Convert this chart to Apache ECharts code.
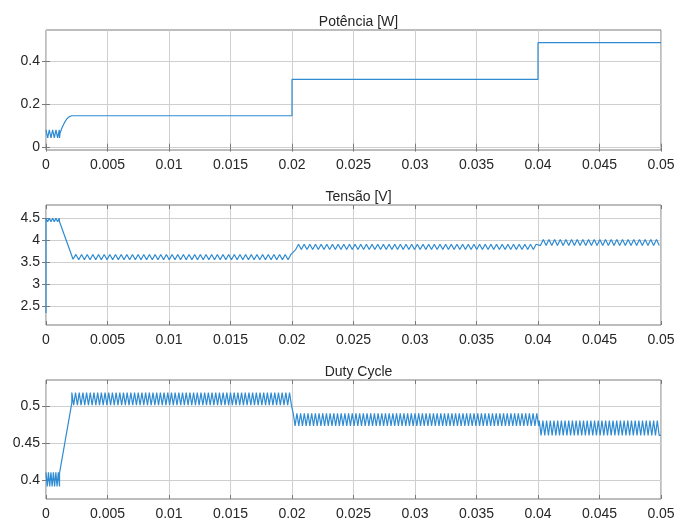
<!DOCTYPE html>
<html>
<head>
<meta charset="utf-8">
<script src="https://cdn.jsdelivr.net/npm/echarts@6/dist/echarts.min.js"></script>
<style>
  html, body { margin: 0; padding: 0; background: #fff; }
  #chart { width: 681px; height: 523px; }
</style>
</head>
<body>
<div id="chart"></div>
<script>
// ---------------- data ----------------
const panelTitles = ['Potência [W]', 'Tensão [V]', 'Duty Cycle'];
const timeTicks = [0, 0.005, 0.01, 0.015, 0.02, 0.025, 0.03, 0.035, 0.04, 0.045, 0.05];
const potenciaTicks = [0, 0.2, 0.4];
const tensaoTicks = [2.5, 3, 3.5, 4, 4.5];
const dutyTicks = [0.4, 0.45, 0.5];
const potenciaRange = [-0.011, 0.546];
const tensaoRange = [2.08, 4.80];
const dutyRange = [0.375, 0.536];

// pieces: ['pt', t, v] single point; ['sq', t0, t1, lo, hi, period] square ripple;
// ['tri', t0, t1, lo, hi, period] triangular ripple
const potenciaPieces = [
  ['sq', 0, 0.0011, 0.045, 0.082, 0.00027],
  ['pt', 0.00114, 0.067],
  ['pt', 0.0013, 0.092],
  ['pt', 0.0015, 0.116],
  ['pt', 0.0017, 0.134],
  ['pt', 0.0019, 0.144],
  ['pt', 0.0021, 0.148],
  ['pt', 0.0200, 0.148],
  ['pt', 0.0200, 0.317],
  ['pt', 0.0400, 0.317],
  ['pt', 0.0400, 0.487],
  ['pt', 0.0500, 0.487]
];
const tensaoPieces = [
  ['pt', 0, 2.35],
  ['sq', 0, 0.0011, 4.42, 4.50, 0.00027],
  ['pt', 0.0012, 4.45],
  ['pt', 0.0022, 3.57],
  ['tri', 0.0022, 0.0200, 3.56, 3.68, 0.00046],
  ['tri', 0.0203, 0.0400, 3.79, 3.91, 0.00046],
  ['tri', 0.0402, 0.0500, 3.88, 4.02, 0.00046]
];
const dutyPieces = [
  ['sq', 0, 0.0011, 0.392, 0.411, 0.0002],
  ['pt', 0.0011, 0.41],
  ['pt', 0.0021, 0.505],
  ['sq', 0.0021, 0.0201, 0.502, 0.519, 0.0003],
  ['sq', 0.0201, 0.0401, 0.474, 0.491, 0.0003],
  ['sq', 0.0401, 0.0500, 0.461, 0.481, 0.0003]
];

// ---------------- build traces ----------------
function buildTrace(pieces) {
  const out = [];
  pieces.forEach(p => {
    if (p[0] === 'pt') { out.push([p[1], p[2]]); return; }
    const [kind, t0, t1, lo, hi, per] = p;
    if (kind === 'sq') {
      for (let t = t0; t < t1 - 1e-9; t += per) {
        const h = Math.min(t + per / 2, t1), e = Math.min(t + per, t1);
        out.push([t, hi], [h, hi], [h, lo], [e, lo]);
      }
    } else {
      let k = 0;
      for (let t = t0; t <= t1 + 1e-9; t += per / 2, k++) {
        out.push([Math.min(t, t1), k % 2 === 0 ? lo : hi]);
      }
    }
  });
  return out;
}
const traces = [buildTrace(potenciaPieces), buildTrace(tensaoPieces), buildTrace(dutyPieces)];
const ranges = [potenciaRange, tensaoRange, dutyRange];
const yTicks = [potenciaTicks, tensaoTicks, dutyTicks];

// ---------------- chart ----------------
const font = '"Liberation Sans", Arial, sans-serif';
const textColor = '#262626';
const gridTops = [30, 205, 380];
const gridHeights = [120, 120, 119];
const plotLeft = 46, plotRight = 20;
const lineColor = '#2f8bd2';
const gridLineColor = '#cfcfcf';
const boxColor = '#7a7a7a';

const grids = [], xAxes = [], yAxes = [], series = [], titles = [];
for (let i = 0; i < 3; i++) {
  grids.push({ left: plotLeft, right: plotRight, top: gridTops[i], height: gridHeights[i],
    show: true, borderColor: boxColor, borderWidth: 1, backgroundColor: '#fff' });
  xAxes.push({
    type: 'value', gridIndex: i, min: 0, max: 0.05, interval: 0.005,
    axisLine: { show: false },
    axisTick: { show: true, inside: true, length: 4, lineStyle: { color: boxColor } },
    axisLabel: { show: true, color: textColor, fontSize: 14, fontFamily: font, margin: 8,
      customValues: timeTicks, formatter: v => String(+v.toFixed(4)) },
    splitLine: { show: true, lineStyle: { color: gridLineColor, width: 1 } }
  });
  xAxes.push({
    type: 'value', gridIndex: i, position: 'top', min: 0, max: 0.05, interval: 0.005,
    axisLine: { show: false },
    axisTick: { show: true, inside: true, length: 4, lineStyle: { color: boxColor } },
    axisLabel: { show: false }, splitLine: { show: false }
  });
  const r = ranges[i];
  yAxes.push({
    type: 'value', gridIndex: i, min: r[0], max: r[1],
    axisLine: { show: false },
    axisTick: { show: true, inside: true, length: 4, customValues: yTicks[i], lineStyle: { color: boxColor } },
    axisLabel: { show: true, color: textColor, fontSize: 14, fontFamily: font, margin: 6,
      customValues: yTicks[i], formatter: v => String(+v.toFixed(3)) },
    splitLine: { show: true, lineStyle: { color: gridLineColor, width: 1 } }
  });
  yAxes.push({
    type: 'value', gridIndex: i, position: 'right', min: r[0], max: r[1],
    axisLine: { show: false },
    axisTick: { show: true, inside: true, length: 4, customValues: yTicks[i], lineStyle: { color: boxColor } },
    axisLabel: { show: false }, splitLine: { show: false }
  });
  series.push({
    type: 'line', xAxisIndex: 2 * i, yAxisIndex: 2 * i, data: traces[i],
    showSymbol: false, symbol: 'none', animation: false, silent: true,
    lineStyle: { color: lineColor, width: 1.2 }, z: 5
  });
  titles.push({
    text: panelTitles[i], left: plotLeft + (681 - plotLeft - plotRight) / 2, top: gridTops[i] - 20,
    textAlign: 'center',
    textStyle: { color: textColor, fontSize: 14, fontWeight: 'normal', fontFamily: font }
  });
}

const chart = echarts.init(document.getElementById('chart'), null, { renderer: 'canvas' });
chart.setOption({
  animation: false,
  backgroundColor: '#fff',
  title: titles,
  grid: grids,
  xAxis: xAxes,
  yAxis: yAxes,
  series: series
});
</script>
</body>
</html>
